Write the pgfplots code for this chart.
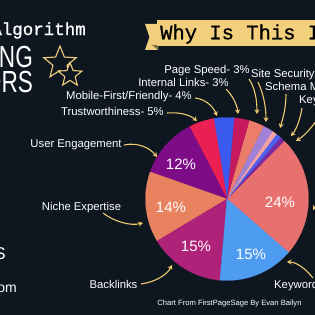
\documentclass[border=0pt]{standalone}
\usepackage{pgfplots}
\pgfplotsset{compat=1.18}
\usepackage{fontspec}
\setmainfont{Liberation Sans}
\newfontfamily\monof[FakeBold=1.0]{Liberation Mono}
\usetikzlibrary{arrows.meta,shapes.geometric}
\definecolor{bg}{HTML}{0E1620}
\definecolor{gold}{HTML}{F1CF7C}
\definecolor{arr}{HTML}{EFCB6E}
\definecolor{c24}{HTML}{E8716F}
\definecolor{cpurS}{HTML}{7B2A9E}
\definecolor{cblueS}{HTML}{4D5FEF}
\definecolor{cpinkS}{HTML}{F2A3A8}
\definecolor{clav}{HTML}{A182D6}
\definecolor{cspeed}{HTML}{EC7D6B}
\definecolor{cintl}{HTML}{C7195E}
\definecolor{cmob}{HTML}{3B5BF0}
\definecolor{ctrust}{HTML}{EA1F52}
\definecolor{cuser}{HTML}{7D0C86}
\definecolor{cniche}{HTML}{E9835F}
\definecolor{cback}{HTML}{AF2279}
\definecolor{ckey}{HTML}{4E9CF1}
% slice: cumulative percent before, percent, colour
\newcommand{\slice}[3]{%
  \pgfmathsetmacro\sa{-41+3.6*#1}%
  \pgfmathsetmacro\sb{-41+3.6*(#1+#2)}%
  \addplot[fill=#3, draw=#3, line width=0.2pt, domain=\sa:\sb, samples=40, variable=\t]
    ({227+81.5*cos(\t)},{199-81.5*sin(\t)}) -- (axis cs:227,199) -- cycle;
}
\newcommand{\lbl}{\fontsize{11.3bp}{13bp}\selectfont}
\begin{document}
\begin{tikzpicture}
\begin{axis}[at={(0,0)}, anchor=south west, scale only axis,
  width=315bp, height=315bp, xmin=0, xmax=315, ymin=0, ymax=315,
  y dir=reverse, hide axis, clip=false]
\fill[bg] (axis cs:0,0) rectangle (axis cs:315,315);
% pie: share of ranking factors (percent)
\slice{0}{24}{c24}
\slice{24}{1}{cpurS}
\slice{25}{1}{cblueS}
\slice{26}{1}{cpinkS}
\slice{27}{2}{clav}
\slice{29}{3}{cspeed}
\slice{32}{3}{cintl}
\slice{35}{4}{cmob}
\slice{39}{5}{ctrust}
\slice{44}{12}{cuser}
\slice{56}{14}{cniche}
\slice{70}{15}{cback}
\slice{85}{15}{ckey}
% percent labels
\begin{scope}[every node/.style={text=white, font=\fontsize{15bp}{17bp}\selectfont}]
\node at (axis cs:280,202) {24\%};
\node at (axis cs:251,254) {15\%};
\node at (axis cs:196,246) {15\%};
\node at (axis cs:171,207) {14\%};
\node at (axis cs:181,164) {12\%};
\end{scope}
% title ribbon
\fill[gold] (axis cs:145,24) -- (axis cs:158,24) -- (axis cs:158,50) -- (axis cs:145,50) -- (axis cs:149.5,37) -- cycle;
\fill[gold!55!black] (axis cs:152,45) -- (axis cs:158,45) -- (axis cs:158,50) -- cycle;
\fill[gold] (axis cs:157,20) rectangle (axis cs:330,46);
\node[anchor=west, text=black, inner sep=0pt, font=\monof\fontsize{20.5bp}{22bp}\selectfont] at (axis cs:160,34) {Why Is This Important?};
% left header
\node[anchor=base east, text=white, inner sep=0pt, font=\monof\fontsize{17.5bp}{19bp}\selectfont] at (axis cs:86,35) {Google Algorithm};
\node[anchor=base east, text=white, inner sep=0pt, xscale=0.74, font=\fontsize{30.5bp}{32bp}\selectfont] at (axis cs:33,67) {RANKING};
\node[anchor=base east, text=white, inner sep=0pt, xscale=0.74, font=\fontsize{30.5bp}{32bp}\selectfont] at (axis cs:33,92) {FACTORS};
\node[anchor=base east, text=white, inner sep=0pt, font=\fontsize{17bp}{19bp}\selectfont] at (axis cs:6,259) {SEO TACTICS};
\node[anchor=base east, text=white, inner sep=0pt, font=\fontsize{14bp}{16bp}\selectfont] at (axis cs:17,292) {firstpagesage.com};
% stars
\node[star, star points=5, star point ratio=2.3, minimum size=34bp, inner sep=0pt, draw=gold, line width=1.1pt] at (axis cs:60,63) {};
\node[star, star points=5, star point ratio=2.3, minimum size=25bp, inner sep=0pt, draw=gold, fill=bg, line width=1.1pt] at (axis cs:70,75) {};
% factor labels
\begin{scope}[every node/.style={text=white, inner sep=0pt, font=\lbl}]
\node at (axis cs:112.5,111) {Trustworthiness- 5\%};
\node at (axis cs:129,97) {Mobile-First/Friendly- 4\%};
\node at (axis cs:183.5,82) {Internal Links- 3\%};
\node at (axis cs:207,71) {Page Speed- 3\%};
\node[anchor=west] at (axis cs:251,75) {Site Security- 2\%};
\node[anchor=west] at (axis cs:265,88) {Schema Markup- 1\%};
\node[anchor=west] at (axis cs:299,101) {Keyword in URL- 1\%};
\node at (axis cs:76,145) {User Engagement};
\node at (axis cs:81.5,208) {Niche Expertise};
\node at (axis cs:113.5,284) {Backlinks};
\node[anchor=west] at (axis cs:274,286) {Keyword in Meta Title Tags};
\node[font=\fontsize{7.6bp}{9bp}\selectfont] at (axis cs:229.5,304) {Chart From FirstPageSage By Evan Bailyn};
\end{scope}
% arrows
\begin{scope}[arr, line width=1.1pt, -{Stealth[length=4.5bp,width=5bp]}]
\draw (axis cs:167,113) .. controls (axis cs:180,112) and (axis cs:190,115) .. (axis cs:197,121);
\draw (axis cs:195,98) .. controls (axis cs:205,99) and (axis cs:213,106) .. (axis cs:217,116);
\draw (axis cs:226,89) .. controls (axis cs:232,95) and (axis cs:237,104) .. (axis cs:238,114);
\draw (axis cs:249,79) .. controls (axis cs:255,88) and (axis cs:257,100) .. (axis cs:257,114);
\draw (axis cs:258,82) .. controls (axis cs:264,95) and (axis cs:266,108) .. (axis cs:266,122);
\draw (axis cs:286,94) .. controls (axis cs:286,108) and (axis cs:283,118) .. (axis cs:280,128);
\draw (axis cs:302,108) .. controls (axis cs:300,120) and (axis cs:296,130) .. (axis cs:291,136);
\draw (axis cs:320,115) .. controls (axis cs:312,128) and (axis cs:304,136) .. (axis cs:296,141);
\draw (axis cs:124,145) .. controls (axis cs:138,142) and (axis cs:150,148) .. (axis cs:157,157);
\draw (axis cs:103,213) .. controls (axis cs:115,222) and (axis cs:130,226) .. (axis cs:143,223);
\draw (axis cs:141,284) .. controls (axis cs:155,282) and (axis cs:167,275) .. (axis cs:172,265);
\draw (axis cs:313,278) .. controls (axis cs:305,268) and (axis cs:296,262) .. (axis cs:287,262);
\draw (axis cs:330,196) .. controls (axis cs:322,200) and (axis cs:316,205) .. (axis cs:313,210);
\end{scope}
\end{axis}
\pgfresetboundingbox
\path[use as bounding box] (current axis.south west) rectangle (current axis.north east);
\end{tikzpicture}
\end{document}
